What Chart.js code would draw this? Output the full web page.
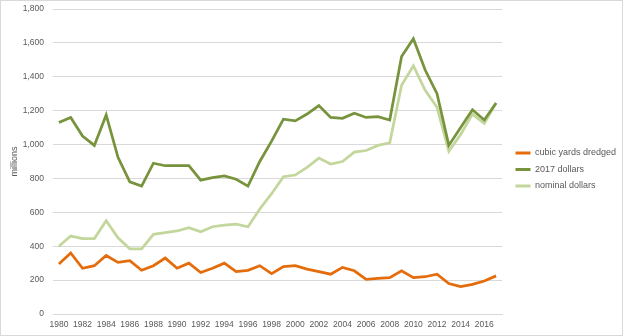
<!DOCTYPE html>
<html>
<head>
<meta charset="utf-8">
<script src="https://cdn.jsdelivr.net/npm/chart.js@4/dist/chart.umd.min.js"></script>
<style>
  html, body { margin: 0; padding: 0; background: #fff; }
  #wrap { width: 623px; height: 336px; position: relative; }
  canvas { display: block; }
</style>
</head>
<body>
<div id="wrap"><canvas id="c" width="623" height="336"></canvas></div>
<script>
const years = [1980,1981,1982,1983,1984,1985,1986,1987,1988,1989,1990,1991,1992,1993,1994,1995,1996,1997,1998,1999,2000,2001,2002,2003,2004,2005,2006,2007,2008,2009,2010,2011,2012,2013,2014,2015,2016,2017];
const cubicYards = [295,360,270,285,345,305,315,258,285,330,270,300,245,270,300,250,258,285,238,280,285,265,250,235,275,255,205,210,215,255,215,220,235,180,162,175,195,225];
const dollars2017 = [1130,1160,1050,995,1175,925,780,755,890,875,875,875,790,805,815,795,755,900,1020,1150,1140,1180,1230,1160,1155,1185,1160,1165,1145,1520,1625,1440,1300,995,1100,1205,1145,1245];
const nominalDollars = [400,460,445,445,550,450,385,385,470,480,490,510,485,515,525,530,515,620,710,810,820,865,920,885,900,955,965,995,1010,1350,1465,1320,1220,960,1060,1180,1125,1245];
const seriesNames = ['cubic yards dredged','2017 dollars','nominal dollars'];
const yTicks = [0,200,400,600,800,1000,1200,1400,1600,1800];
const yTitle = 'millions';

const colors = ['#E46C0A','#77933C','#C3D69B'];
const FONT = '"Liberation Sans", Arial, sans-serif';

const borderPlugin = {
  id: 'outerBorder',
  afterInit(chart) {
    const lg = chart.legend;
    if (lg) {
      const f = lg.fit.bind(lg);
      lg.fit = function () { f(); this.width = 121; };
    }
  },
  afterLayout(chart) {
    const lg = chart.legend;
    if (lg) { lg.left = 508; lg.right = 623; lg.top -= 3; lg.bottom -= 3; }
  },
  afterDraw(chart) {
    const ctx = chart.ctx;
    ctx.save();
    ctx.strokeStyle = '#d9d9d9';
    ctx.lineWidth = 1;
    ctx.strokeRect(0.5, 0.5, chart.width - 1, chart.height - 1);
    ctx.restore();
  }
};

new Chart(document.getElementById('c'), {
  type: 'line',
  data: {
    labels: years.map(String),
    datasets: [cubicYards, dollars2017, nominalDollars].map((d, i) => ({
      label: seriesNames[i],
      data: d,
      borderColor: colors[i],
      backgroundColor: colors[i],
      borderWidth: 2.75,
      pointRadius: 0,
      tension: 0,
      fill: false
    }))
  },
  options: {
    responsive: false,
    animation: false,
    layout: { padding: { top: 9, left: 4, right: 0, bottom: 0 } },
    plugins: {
      legend: {
        position: 'right',
        labels: {
          font: { family: FONT, size: 9 },
          color: '#595959',
          boxWidth: 15,
          boxHeight: 3,
          padding: 7.5,
          generateLabels(chart) {
            return chart.data.datasets.map((ds, i) => ({
              text: ds.label,
              fillStyle: ds.borderColor,
              strokeStyle: ds.borderColor,
              lineWidth: 0,
              fontColor: '#595959',
              datasetIndex: i,
              hidden: false
            }));
          }
        }
      },
      tooltip: { enabled: false }
    },
    scales: {
      x: {
        type: 'category',
        offset: true,
        grid: { display: false, drawTicks: false },
        border: { display: true, color: '#d9d9d9' },
        afterFit(scale) { scale.height = 22; scale.paddingLeft = 0; scale.paddingRight = 0; },
        ticks: {
          autoSkip: false,
          maxRotation: 0,
          font: { family: FONT, size: 8.5 },
          color: '#595959',
          padding: 6,
          callback(v, i) { return i % 2 === 0 ? years[i] : ''; }
        }
      },
      y: {
        min: 0, max: 1800,
        afterBuildTicks(scale) { scale.ticks = yTicks.map(v => ({ value: v })); },
        afterFit(scale) { scale.width = 49; scale.paddingTop = 0; scale.paddingBottom = 0; },
        grid: { color: '#d9d9d9', drawTicks: false },
        border: { display: false },
        ticks: {
          font: { family: FONT, size: 8.5 },
          color: '#595959',
          padding: 9,
          callback(v) { return Number(v).toLocaleString('en-US'); }
        },
        title: {
          display: true,
          text: yTitle,
          font: { family: FONT, size: 9 },
          color: '#595959',
          padding: { top: 5, bottom: 4 }
        }
      }
    }
  },
  plugins: [borderPlugin]
});
</script>
</body>
</html>
